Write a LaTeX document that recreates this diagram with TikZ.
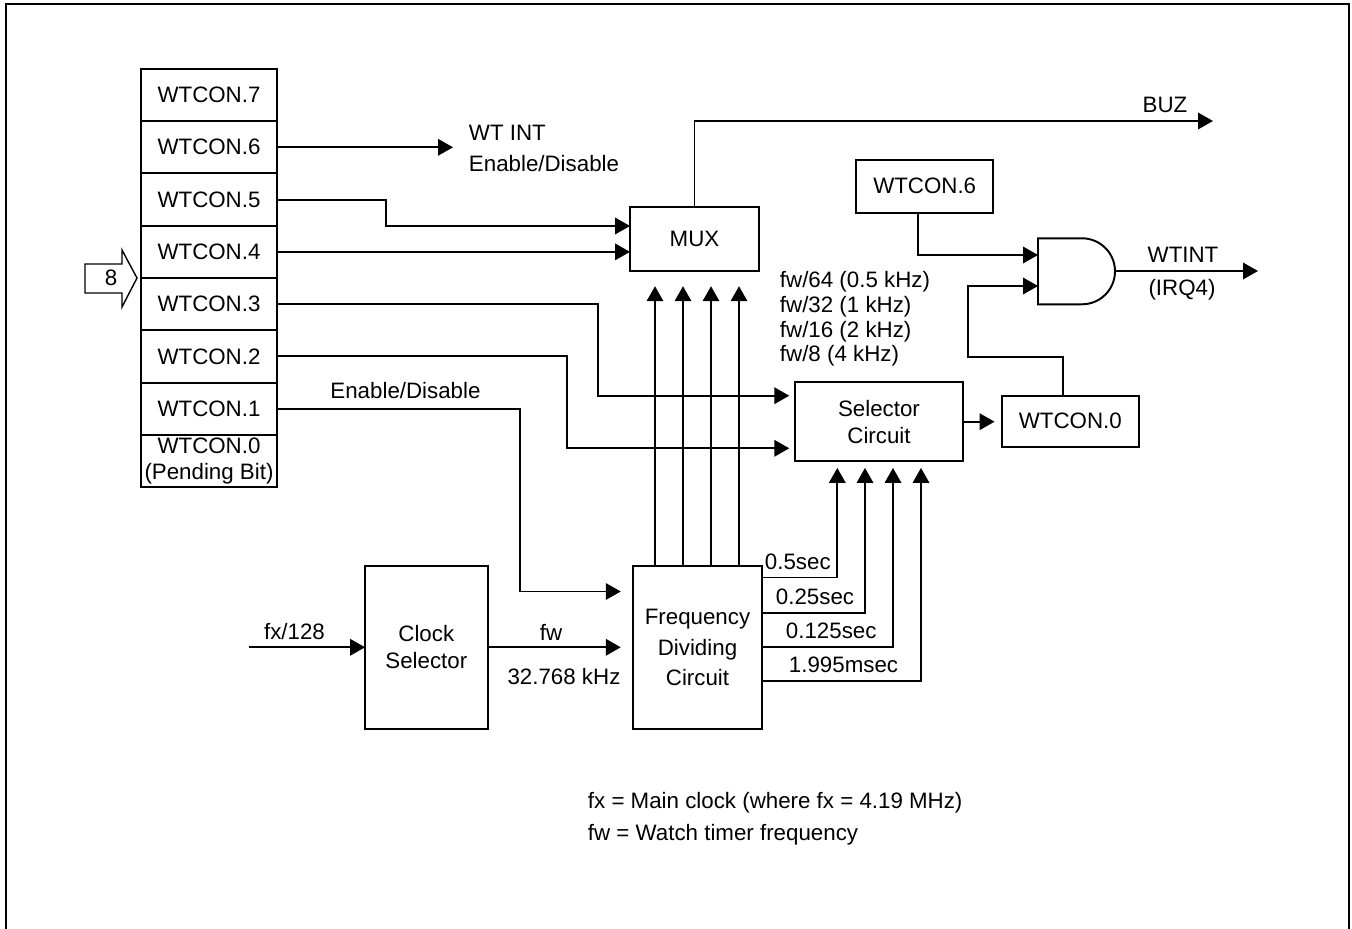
\documentclass[tikz,border=0pt]{standalone}
\usepackage{fontspec}
\setmainfont{Liberation Sans}
\usetikzlibrary{arrows.meta, calc, positioning}

\tikzset{
   box/.style={draw, rectangle, outer sep=0pt, inner sep=0pt, align=center},
   cell/.style={box, minimum width=2.72cm, minimum height=1.046cm},
   sig/.style={-{Triangle[length=0.3cm, width=0.33cm]}},
   lbl/.style={inner sep=0pt, align=center}
}

\begin{document}
\begin{tikzpicture}[x=0.02cm, y=-0.02cm, line width=1.1pt,
      font=\fontsize{12.7}{15}\selectfont]
      \useasboundingbox (0,0) rectangle (1352,929);
      % Frame
      \draw (6,935) -- (6,4) -- (1349,4) -- (1349,935);
      % WTCON register
      \node[cell] (r7) at (209,95) {WTCON.7};
      \node[cell, below=0pt of r7] (r6) {WTCON.6};
      \node[cell, below=0pt of r6] (r5) {WTCON.5};
      \node[cell, below=0pt of r5] (r4) {WTCON.4};
      \node[cell, below=0pt of r4] (r3) {WTCON.3};
      \node[cell, below=0pt of r3] (r2) {WTCON.2};
      \node[cell, below=0pt of r2] (r1) {WTCON.1};
      \node[cell, below=0pt of r1, font=\fontsize{12.7}{14.7}\selectfont] (r0) {WTCON.0\\(Pending Bit)};
      % 8-bit bus arrow
      \draw[line width=0.8pt] (85,264) -- (122,264) -- (122,250) -- (137,278)
         -- (122,307) -- (122,293) -- (85,293) -- cycle;
      \node[lbl] (eight) at (111,278) {8};
      % WT INT
      \node[lbl, anchor=west, align=left, font=\fontsize{12.7}{17.6}\selectfont] (wtint) at (468,148.5)
         {WT INT\\Enable/Disable};
      \draw[sig, shorten >=0.3cm] (r6.east) -- (r6.east -| wtint.west);
      % MUX and BUZ
      \node[box, minimum width=2.58cm, minimum height=1.29cm] (mux) at (694.5,239) {MUX};
      \draw[sig] (r5.east) -- ++(109,0) |- ($(mux.west)+(0,-13)$);
      \draw[sig] (r4.east) -- (r4.east -| mux.west);
      \node[lbl] (buz) at (1165,105) {BUZ};
      \coordinate (buzend) at (1213,121);
      \draw[sig] (mux.north) |- (buzend);
      % Frequency dividing circuit
      \node[box, minimum width=2.59cm, minimum height=3.26cm, font=\fontsize{12.7}{17.3}\selectfont]
         (freq) at (697.5,647.5) {Frequency\\Dividing\\Circuit};
      \foreach \dx in {-42.5,-14.5,13.5,41.5}
         \draw[sig, shorten >=0.3cm] ($(freq.north)+(\dx,0)$) coordinate (fa) -- (fa |- mux.south);
      \node[lbl, anchor=west, align=left, font=\fontsize{12.7}{14}\selectfont] (fwlist) at (779,319)
         {fw/64 (0.5 kHz)\\fw/32 (1 kHz)\\fw/16 (2 kHz)\\fw/8 (4 kHz)};
      % Selector circuit
      \node[box, minimum width=3.35cm, minimum height=1.57cm, font=\fontsize{12.7}{15.3}\selectfont]
         (sel) at (879,421.7) {Selector\\Circuit};
      \draw[sig, shorten >=0.12cm] (r3.east) -- ++(321,0) |- ($(sel.west)+(0,-26)$);
      \draw[sig, shorten >=0.12cm] (r2.east) -- ++(290,0) |- ($(sel.west)+(0,26.6)$);
      \draw[sig, shorten >=0.14cm] ($(freq.east)+(0,-70)$) -| ($(sel.south)+(-41.7,0)$);
      \draw[sig, shorten >=0.14cm] ($(freq.east)+(0,-34.2)$) -| ($(sel.south)+(-14,0)$);
      \draw[sig, shorten >=0.14cm] ($(freq.east)+(0,-0.8)$) -| ($(sel.south)+(14,0)$);
      \draw[sig, shorten >=0.14cm] ($(freq.east)+(0,33.8)$) -| ($(sel.south)+(42,0)$);
      \node[lbl, anchor=west] (t05) at (764,562) {0.5sec};
      \node[lbl, anchor=west] (t025) at (775,597) {0.25sec};
      \node[lbl, anchor=west] (t0125) at (785,631) {0.125sec};
      \node[lbl, anchor=west] (t1995) at (788,665) {1.995msec};
      % Enable/Disable to dividing circuit
      \draw[sig, shorten >=0.24cm] (r1.east) -- ++(243,0) |- ($(freq.west)+(0,-56)$);
      \node[lbl] (endis) at (405.5,391) {Enable/Disable};
      % Clock selector
      \node[box, minimum width=2.45cm, minimum height=3.27cm, font=\fontsize{12.7}{15.3}\selectfont]
         (clk) at (426.3,647.3) {Clock\\Selector};
      \coordinate (fxin) at (249,647.3);
      \draw[sig] (fxin) -- (clk.west);
      \node[lbl] (fxl) at (294.5,632) {fx/128};
      \draw[sig, shorten >=0.24cm] (clk.east) -- (clk.east -| freq.west);
      \node[lbl] (fwl) at (551,632) {fw};
      \node[lbl] (fwf) at (564,677) {32.768 kHz};
      % WTCON.0 and WTCON.6 to AND gate
      \node[box, minimum width=2.75cm, minimum height=1.01cm] (wt0) at (1070.3,421.3) {WTCON.0};
      \draw[sig, shorten >=0.14cm] (sel.east) -- (sel.east -| wt0.west);
      \node[box, minimum width=2.75cm, minimum height=1.05cm] (wt6) at (924.7,186.3) {WTCON.6};
      \draw (1038,238.3) -- (1082,238.3) arc[start angle=90, end angle=-90, radius=0.66cm]
         -- (1038,304.3) -- cycle;
      \coordinate (andA) at (1038,255);
      \coordinate (andB) at (1038,286);
      \coordinate (andY) at (1115,271);
      \coordinate (wtintend) at (1258,271);
      \draw[sig] ($(wt6.south)+(-6.4,0)$) |- (andA);
      \draw[sig] ($(wt0.north)+(-7.6,0)$) -- ++(0,-39.3) -- ++(-94.4,0) |- (andB);
      \draw[sig] (andY) -- (wtintend);
      \node[lbl] (wtintl) at (1183,255) {WTINT};
      \node[lbl] (irq) at (1182,290) {(IRQ4)};
      % Notes
      \node[lbl, anchor=west, align=left, font=\fontsize{12.7}{18.1}\selectfont] (note) at (587,819)
         {fx = Main clock (where fx = 4.19 MHz)\\fw = Watch timer frequency};
\end{tikzpicture}
\end{document}
